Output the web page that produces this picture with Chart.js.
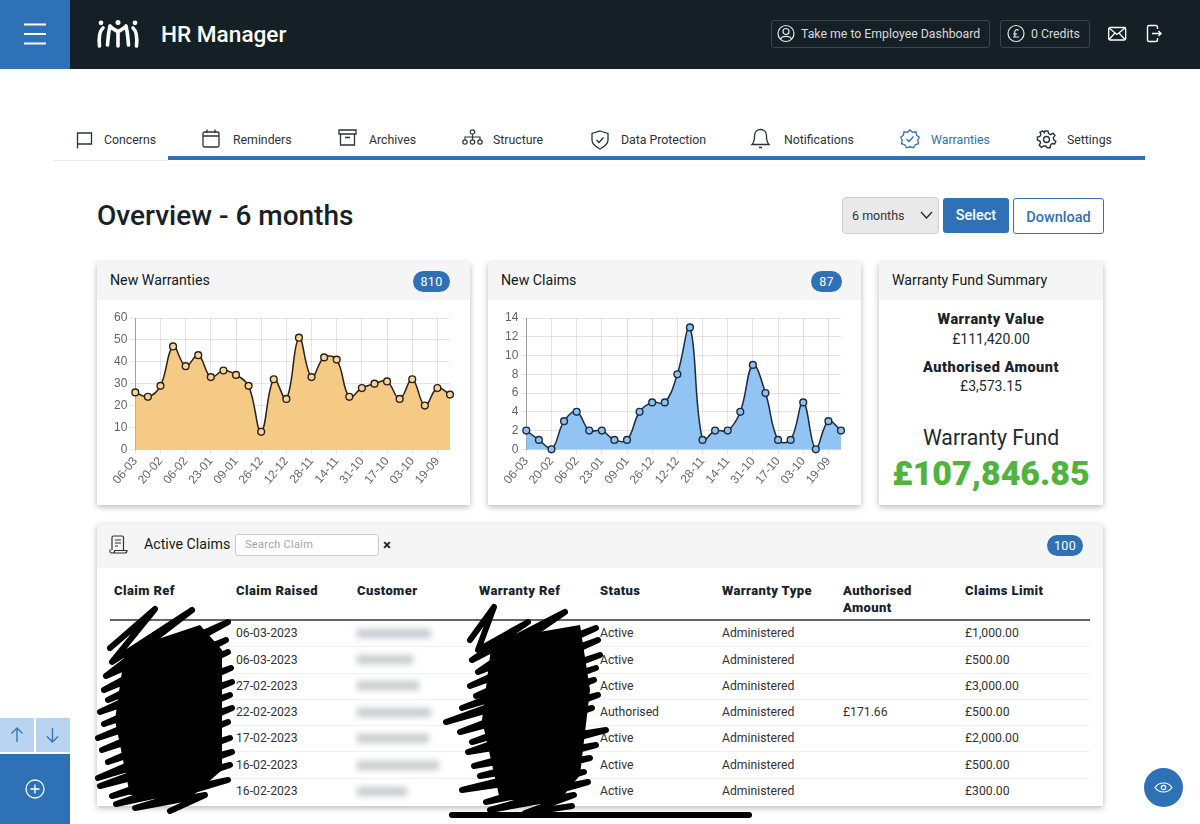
<!DOCTYPE html>
<html>
<head>
<meta charset="utf-8">
<title>HR Manager</title>
<script src="https://cdn.jsdelivr.net/npm/chart.js@4"></script>
<style>
html, body { margin: 0; padding: 0; background: #fff; }
body { width: 1200px; height: 824px; overflow: hidden; position: relative; font-family: Roboto, sans-serif; color: #1f2a30; }
.abs { position: absolute; }
.t { position: absolute; white-space: nowrap; height: 20px; line-height: 20px; }
.card { position: absolute; background: #fff; box-shadow: 0 2px 6px rgba(0,0,0,.28); }
.cardhead { position: absolute; left: 0; top: 0; right: 0; background: #f5f5f5; }
.cardtitle { font-size: 14.2px; color: #111a20; }
.badge { position: absolute; height: 21px; line-height: 21px; border-radius: 11px; background: #2f71b7; color: #fff; font-size: 12.5px; text-align: center; letter-spacing: .3px; }
.tab { position: absolute; top: 130px; font-size: 12.3px; line-height: 20px; color: #2a3339; white-space: nowrap; }
.th { position: absolute; font-size: 13px; font-weight: 900; letter-spacing: .4px; line-height: 17px; color: #1a242b; white-space: nowrap; }
.td { position: absolute; font-size: 12.2px; line-height: 20px; color: #333; white-space: nowrap; }
.blurname { position: absolute; height: 9px; background: #b3b9be; filter: blur(3px); opacity: .75; }
svg { position: absolute; overflow: visible; fill: none; }
canvas { position: absolute; }
</style>
</head>
<body>

<!-- top bar -->
<div class="abs" style="left:0;top:0;width:1200px;height:69px;background:#151f26"></div>
<div class="abs" style="left:0;top:0;width:70px;height:69px;background:#2f71b7"></div>
<svg style="left:0;top:0" width="70" height="69" stroke="#fff" stroke-width="1.6">
  <path d="M24 24.5H46M24 34H46M24 43.5H46" stroke-width="2"/>
</svg>
<svg style="left:96px;top:20px" width="44" height="28" stroke="#fff" stroke-width="3.6" stroke-linecap="round">
  <circle cx="5" cy="2.8" r="2.4" style="fill:#fff;stroke:none"/>
  <circle cx="22" cy="2.6" r="2.5" style="fill:#fff;stroke:none"/>
  <circle cx="39" cy="2.8" r="2.4" style="fill:#fff;stroke:none"/>
  <path d="M3.5 26C2.5 16 3.5 11 7 8M22 26V12M14 6C16 9 20 10 22 12C24 10 28 9 30 6M14 6C12 14 12 20 11.5 25M30 6C32 14 32 20 32.5 25M40.5 26C41.5 16 40.5 11 37 8"/>
</svg>
<div class="t" style="left:161px;top:24px;font-size:22.6px;line-height:22px;color:#fff;font-weight:500">HR Manager</div>

<div class="abs" style="left:771px;top:20px;width:217px;height:26px;border:1px solid #39444b;border-radius:3px"></div>
<svg style="left:777px;top:24px" width="20" height="20" stroke="#e8e8e8" stroke-width="1.2">
  <circle cx="9" cy="9.5" r="8"/><circle cx="9" cy="7.5" r="3"/><path d="M3.5 15C5 11.5 13 11.5 14.5 15"/>
</svg>
<div class="t" style="left:801px;top:24px;font-size:12.3px;color:#d8dadb">Take me to Employee Dashboard</div>
<div class="abs" style="left:1000px;top:20px;width:88px;height:26px;border:1px solid #39444b;border-radius:3px"></div>
<svg style="left:1007px;top:24px" width="20" height="20" stroke="#e8e8e8" stroke-width="1.2">
  <circle cx="9" cy="9.5" r="8"/><path d="M11.5 6.5C10.5 5 7.5 5.5 7.8 8.5V12.5M6 10H10M6 13H12"/>
</svg>
<div class="t" style="left:1031px;top:24px;font-size:12.3px;color:#d8dadb">0 Credits</div>
<svg style="left:1108px;top:26px" width="20" height="16" stroke="#fff" stroke-width="1.3">
  <rect x=".7" y="1.5" width="17" height="12.5" rx="1.5"/><path d="M1 2L9 8.5L17 2M1 13.5L7 7M17 13.5L11 7"/>
</svg>
<svg style="left:1146px;top:24px" width="18" height="20" stroke="#fff" stroke-width="1.4">
  <path d="M10 1.5H3C2 1.5 1.5 2 1.5 3V16C1.5 17 2 17.5 3 17.5H10C11 17.5 11.5 17 11.5 16V14M11.5 5V3C11.5 2 11 1.5 10 1.5"/><path d="M6 9.5H15M12.5 7L15 9.5L12.5 12"/>
</svg>

<!-- tabs -->
<div class="abs" style="left:53px;top:160px;width:115px;height:1px;background:#eceff1"></div>
<div class="abs" style="left:168px;top:156px;width:977px;height:4px;background:#2f6fb3"></div>
<div id="tabs"></div>
<svg style="left:76px;top:131px" width="18" height="20" stroke="#2a3339" stroke-width="1.3"><path d="M1.5 17.5V2H15.5V13H2"/></svg>
<svg style="left:202px;top:129px" width="18" height="20" stroke="#2a3339" stroke-width="1.3"><rect x="1" y="3" width="16" height="15" rx="1.5"/><path d="M1 7H17M5 .5V4M13 .5V4"/></svg>
<svg style="left:338px;top:129px" width="19" height="18" stroke="#2a3339" stroke-width="1.3"><path d="M1 1H18V5H1ZM2.5 5V16H16.5V5M7 8.5H12"/></svg>
<svg style="left:462px;top:129px" width="21" height="18" stroke="#2a3339" stroke-width="1.2"><circle cx="10.5" cy="3" r="2.2"/><circle cx="3" cy="13" r="2.2"/><circle cx="10.5" cy="13" r="2.2"/><circle cx="18" cy="13" r="2.2"/><path d="M10.5 5.5V10.5M3 10.5V8H18V10.5"/></svg>
<svg style="left:591px;top:130px" width="18" height="20" stroke="#2a3339" stroke-width="1.3"><path d="M9 1L17 3.5V10C17 14 13 17 9 19C5 17 1 14 1 10V3.5ZM5.5 10L8 12.5L12.5 7.5"/></svg>
<svg style="left:751px;top:128px" width="19" height="22" stroke="#2a3339" stroke-width="1.3"><path d="M1 16.5C3.5 14 3.5 11 3.5 8C3.5 4 6 1.5 9.5 1.5C13 1.5 15.5 4 15.5 8C15.5 11 15.5 14 18 16.5ZM8 19.5H11"/></svg>
<svg style="left:900px;top:129px" width="20" height="21" stroke="#2f6fb3" stroke-width="1.3"><path d="M10 1L12.5 3.3L16 2.8L16.6 6.2L19.3 8.3L17.7 11.3L18.5 14.7L15.3 15.7L13.5 18.8L10 17.8L6.5 18.8L4.7 15.7L1.5 14.7L2.3 11.3L.7 8.3L3.4 6.2L4 2.8L7.5 3.3Z"/><path d="M6.5 10L9 12.5L13.5 7.5"/></svg>
<svg style="left:1037px;top:130px" width="19" height="19" stroke="#2a3339" stroke-width="1.4"><circle cx="9.5" cy="9.5" r="3"/><path d="M8 1H11L11.6 3.6L13.8 4.6L16.1 3.2L18 5.6L16.3 7.6L16.8 9.8L18.8 11.2L17.6 14L15.1 13.6L13.4 15.2L13.2 17.8H10.2L8.8 16H6.6L4.4 17.3L2.2 15.2L3.6 13L2.8 11L.4 10V7L2.9 6.5L3.9 4.5L3 2.4L5.6 .9L7.3 2.7Z"/></svg>

<!-- page heading -->
<div class="t" style="left:97px;top:205px;font-size:28px;line-height:21px;font-weight:500;color:#16212a">Overview - 6 months</div>
<div class="abs" style="left:842px;top:197px;width:95px;height:35px;background:#e9e9e9;border:1px solid #cfcfcf;border-radius:4px"></div>
<div class="t" style="left:852px;top:205px;font-size:12.5px;color:#333;line-height:21px">6 months</div>
<svg style="left:920px;top:211px" width="14" height="9" stroke="#222" stroke-width="1.2"><path d="M1 1L6.5 7L12 1"/></svg>
<div class="abs" style="left:943px;top:198px;width:66px;height:35px;background:#2f71b7;border-radius:3px;color:#fff;font-size:14.5px;font-weight:500;line-height:35px;text-align:center">Select</div>
<div class="abs" style="left:1013px;top:198px;width:89px;height:34px;border:1px solid #2f71b7;border-radius:3px;color:#2f71b7;font-size:14.5px;font-weight:500;line-height:37px;text-align:center">Download</div>

<!-- new warranties -->
<div class="card" style="left:97px;top:262px;width:373px;height:243px"><div class="cardhead" style="height:38px"></div></div>
<div class="t cardtitle" style="left:110px;top:270px">New Warranties</div>
<div class="badge" style="left:413px;top:271px;width:37px">810</div>
<canvas id="warrantyChart" style="left:97px;top:305px"></canvas>

<!-- new claims -->
<div class="card" style="left:488px;top:262px;width:373px;height:243px"><div class="cardhead" style="height:38px"></div></div>
<div class="t cardtitle" style="left:501px;top:270px">New Claims</div>
<div class="badge" style="left:811px;top:271px;width:31px">87</div>
<canvas id="claimChart" style="left:488px;top:305px"></canvas>

<!-- fund summary -->
<div class="card" style="left:879px;top:262px;width:224px;height:243px"><div class="cardhead" style="height:38px"></div></div>
<div class="t cardtitle" style="left:892px;top:270px">Warranty Fund Summary</div>
<div class="t" style="left:879px;width:224px;text-align:center;top:310px;font-size:14.5px;font-weight:900;letter-spacing:.5px;color:#1a242b">Warranty Value</div>
<div class="t" style="left:879px;width:224px;text-align:center;top:329px;font-size:14px">£111,420.00</div>
<div class="t" style="left:879px;width:224px;text-align:center;top:358px;font-size:14.5px;font-weight:900;letter-spacing:.5px;color:#1a242b">Authorised Amount</div>
<div class="t" style="left:879px;width:224px;text-align:center;top:376px;font-size:14px">£3,573.15</div>
<div class="t" style="left:879px;width:224px;text-align:center;top:428px;font-size:21.2px">Warranty Fund</div>
<div class="t" style="left:879px;width:224px;text-align:center;top:463px;font-size:34px;font-weight:900;color:#4fb33d">£107,846.85</div>

<!-- active claims table -->
<div class="card" style="left:97px;top:524px;width:1006px;height:282px"><div class="cardhead" style="height:44px"></div></div>
<svg style="left:109px;top:535px" width="20" height="20" stroke="#2a3339" stroke-width="1.2"><path d="M3 15V2.5C3 1.5 3.5 1 4.5 1H13C14 1 14.5 1.5 14.5 2.5V15M1 14.5V16.5C1 17.5 2 18 3 18H16C17.5 18 18 17 18 15.5H5.5V16.5C5.5 17.5 4.5 18 3 18M6 5H12M6 8H12M6 11H9"/></svg>
<div class="t cardtitle" style="left:144px;top:534px">Active Claims</div>
<div class="abs" style="left:235px;top:534px;width:142px;height:20px;background:#fff;border:1px solid #ccc;border-radius:3px"></div>
<div class="t" style="left:245px;top:535px;font-size:11px;color:#a4a4a4;letter-spacing:.3px;line-height:20px">Search Claim</div>
<div class="t" style="left:383px;top:535px;font-size:15px;font-weight:700;color:#222">×</div>
<div class="badge" style="left:1047px;top:535px;width:36px">100</div>
<div id="table"></div>
<div class="abs" style="left:110px;top:619px;width:980px;height:2px;background:#666"></div>

<!-- blacked out columns -->
<svg style="left:0;top:0" width="1200" height="824" stroke="#000" stroke-linecap="round" stroke-linejoin="round">
  <path style="fill:#000;stroke:none" d="M125 650L200 625L222 650L222 770L190 798L130 795L115 720Z"/>
  <path stroke-width="6" d="M110 648L155 609L112 662L192 610L106 676L228 622L104 690L226 640L108 700L228 652L100 712L231 668L104 724L232 682L98 738L230 695L102 750L232 708L108 762L228 722L98 778L230 738L100 786L232 752L112 796L230 765L116 804L228 780L135 808L205 795L170 811"/>
  <path style="fill:#000;stroke:none" d="M492 640L580 625L590 690L580 775L560 800L500 800L482 720Z"/>
  <path stroke-width="6" d="M470 640L494 607L478 650L528 622L472 660L565 612L478 672L596 628L470 686L598 640L476 696L600 655L462 708L596 668L446 722L594 680L460 732L598 695L472 742L592 708L468 752L606 730L474 766L596 745L480 776L590 758L462 790L584 772L486 802L588 782L490 810L574 795L525 813L572 806"/>
</svg>
<div class="abs" style="left:449px;top:812px;width:303px;height:6px;background:#000;border-radius:3px"></div>

<!-- side controls -->
<div class="abs" style="left:0;top:718px;width:34px;height:34px;background:#b8d4f1"></div>
<div class="abs" style="left:36px;top:718px;width:34px;height:34px;background:#b8d4f1"></div>
<div class="abs" style="left:0;top:754px;width:70px;height:70px;background:#2f71b7"></div>
<svg style="left:0;top:718px" width="70" height="34" stroke="#3a76b8" stroke-width="1.4"><path d="M17 24V10M11.5 15.5L17 10L22.5 15.5M52.5 10V24M47 18.5L52.5 24L58 18.5"/></svg>
<svg style="left:25px;top:779px" width="20" height="20" stroke="#fff" stroke-width="1.3"><circle cx="10" cy="10" r="9"/><path d="M10 5.5V14.5M5.5 10H14.5"/></svg>
<div class="abs" style="left:1144px;top:768px;width:39px;height:39px;background:#2f71b7;border-radius:50%"></div>
<svg style="left:1154px;top:781px" width="19" height="13" stroke="#fff" stroke-width="1.2"><path d="M1 6.5C5 .5 14 .5 18 6.5C14 12.5 5 12.5 1 6.5Z"/><circle cx="9.5" cy="6.5" r="2.2"/></svg>

<script>
// Chart data, newest week first
const weekLabels = ['06-03','27-02','20-02','13-02','06-02','30-01','23-01','16-01','09-01','02-01','26-12','19-12','12-12','05-12','28-11','21-11','14-11','07-11','31-10','24-10','17-10','10-10','03-10','26-09','19-09','12-09'];
const warrantyValues = [26,24,29,47,38,43,33,36,34,29,8,32,23,51,33,42,41,24,28,30,31,23,32,20,28,25];
const claimValues = [2,1,0,3,4,2,2,1,1,4,5,5,8,13,1,2,2,4,9,6,1,1,5,0,3,2];

// Table contents
const tableColumns = [114,236,357,479,600,722,843,965];
const tableHeaders = ['Claim Ref','Claim Raised','Customer','Warranty Ref','Status','Warranty Type','Authorised<br>Amount','Claims Limit'];
const claimDates = ['06-03-2023','06-03-2023','27-02-2023','22-02-2023','17-02-2023','16-02-2023','16-02-2023'];
const claimStatus = ['Active','Active','Active','Authorised','Active','Active','Active'];
const claimAuthorised = ['','','','£171.66','','',''];
const claimLimits = ['£1,000.00','£500.00','£3,000.00','£500.00','£2,000.00','£500.00','£300.00'];
const rowCentres = [633,659.5,685.5,712,738,765,791];
const blurWidths = [74,56,62,74,72,82,50];

const tabNames = ['Concerns','Reminders','Archives','Structure','Data Protection','Notifications','Warranties','Settings'];
const tabLefts = [104,233,369,493,621,784,931,1067];

// Tabs
const tabs = document.getElementById('tabs');
tabNames.forEach((name, i) => {
    const div = document.createElement('div');
    div.className = 'tab';
    div.style.left = tabLefts[i] + 'px';
    if (name === 'Warranties') div.style.color = '#2f6fb3';
    div.textContent = name;
    tabs.appendChild(div);
});

// Table
function addCell(parent, cls, left, top, html) {
    const div = document.createElement('div');
    div.className = cls;
    div.style.left = left + 'px';
    div.style.top = top + 'px';
    div.innerHTML = html;
    parent.appendChild(div);
    return div;
}

const table = document.getElementById('table');
tableHeaders.forEach((h, i) => addCell(table, 'th', tableColumns[i], 582, h));
rowCentres.forEach((y, r) => {
    const top = y - 10;
    addCell(table, 'td', tableColumns[1], top, claimDates[r]);
    // customer names are blurred in the picture
    const blur = addCell(table, 'blurname', tableColumns[2], y - 4.5, '');
    blur.style.width = blurWidths[r] + 'px';
    addCell(table, 'td', tableColumns[4], top, claimStatus[r]);
    addCell(table, 'td', tableColumns[5], top, 'Administered');
    addCell(table, 'td', tableColumns[6], top, claimAuthorised[r]);
    addCell(table, 'td', tableColumns[7], top, claimLimits[r]);
    if (r < rowCentres.length - 1) {
        const line = addCell(table, 'abs', 110, y + 13, '');
        line.style.width = '980px';
        line.style.height = '1px';
        line.style.background = '#f0f0f0';
    }
});

// Line charts
function createAreaChart(canvasId, values, maxValue, step, lineColor, fillColor, pointColor) {
    const canvas = document.getElementById(canvasId);
    canvas.width = 373;
    canvas.height = 195;
    return new Chart(canvas.getContext('2d'), {
        type: 'line',
        data: {
            labels: weekLabels,
            datasets: [{
                data: values,
                borderColor: lineColor,
                borderWidth: 1.5,
                backgroundColor: fillColor,
                fill: 'origin',
                tension: 0.4,
                pointRadius: 3.4,
                pointBorderWidth: 1.4,
                pointBorderColor: lineColor,
                pointBackgroundColor: pointColor,
                clip: false
            }]
        },
        options: {
            responsive: false,
            animation: false,
            layout: { padding: { top: 13, right: 20, left: 0, bottom: 0 } },
            plugins: { legend: { display: false }, tooltip: { enabled: false } },
            scales: {
                x: {
                    offset: false,
                    afterBuildTicks: scale => {
                        scale.ticks = scale.ticks.filter((t, i) => i % 2 === 0);
                    },
                    afterFit: scale => { scale.height = 50.7; },
                    grid: { color: 'rgba(0,0,0,0.1)', tickLength: 5 },
                    border: { color: 'rgba(0,0,0,0.1)' },
                    ticks: {
                        autoSkip: false,
                        minRotation: 50,
                        maxRotation: 50,
                        padding: 0,
                        color: '#666',
                        font: { family: 'Liberation Sans', size: 12 }
                    }
                },
                y: {
                    min: 0,
                    max: maxValue,
                    afterFit: scale => { scale.width = 38.3; },
                    grid: { color: 'rgba(0,0,0,0.1)', tickLength: 5 },
                    border: { color: 'rgba(0,0,0,0.3)' },
                    ticks: {
                        stepSize: step,
                        padding: 3,
                        color: '#666',
                        font: { family: 'Liberation Sans', size: 12 }
                    }
                }
            }
        }
    });
}

createAreaChart('warrantyChart', warrantyValues, 60, 10, '#2a2118', '#f5ca85', '#f8d596');
createAreaChart('claimChart', claimValues, 14, 2, '#1c2c3f', '#91c4f3', '#8fc0ee');
</script>
</body>
</html>
